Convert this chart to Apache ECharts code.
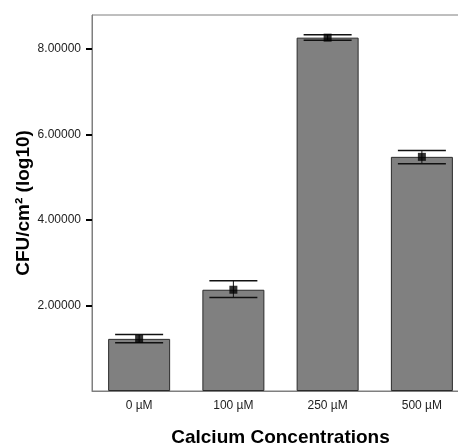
<!DOCTYPE html>
<html><head><meta charset="utf-8">
<script src="https://cdn.jsdelivr.net/npm/echarts@6/dist/echarts.min.js"></script>
<style>html,body{margin:0;padding:0;background:#fff}#c{width:458px;height:448px}</style>
</head><body><div id="c"></div>
<script>
const categories = ['0 µM', '100 µM', '250 µM', '500 µM'];
const means = [1.22, 2.37, 8.27, 5.48];
const errLow = [1.13, 2.19, 8.21, 5.32];
const errHigh = [1.32, 2.58, 8.34, 5.63];
const yTicks = [2, 4, 6, 8];
const yMin = 0, yMax = 8.8;

const font = '"Liberation Sans", Arial, sans-serif';
const chart = echarts.init(document.getElementById('c'), null, {renderer: 'canvas'});
const errData = categories.map((c, i) => [i, errLow[i], errHigh[i]]);

chart.setOption({
  animation: false,
  backgroundColor: '#fff',
  grid: {left: 92, top: 15, right: -11, bottom: 57, show: true, borderColor: '#7f7f7f', borderWidth: 1, containLabel: false, outerBoundsMode: 'none'},
  xAxis: {
    type: 'category', data: categories,
    axisLine: {lineStyle: {color: '#7f7f7f', width: 1}},
    axisTick: {alignWithLabel: true, length: 6, lineStyle: {color: '#000', width: 2}},
    axisLabel: {fontFamily: font, fontSize: 12, color: '#222', margin: 9},
    name: 'Calcium Concentrations', nameLocation: 'middle', nameGap: 37, nameMoveOverlap: false,
    nameTextStyle: {fontFamily: font, fontSize: 19, fontWeight: 'bold', color: '#000'}
  },
  yAxis: {
    type: 'value', min: yMin, max: yMax, interval: 2,
    splitLine: {show: false},
    axisLine: {show: true, lineStyle: {color: '#7f7f7f', width: 1}},
    axisTick: {show: true, length: 6, customValues: yTicks, lineStyle: {color: '#000', width: 2}},
    axisLabel: {fontFamily: font, fontSize: 12, color: '#222', margin: 11, customValues: yTicks,
      formatter: v => v.toFixed(5)},
    name: 'CFU/cm² (log10)', nameLocation: 'middle', nameGap: 59, nameRotate: 90, nameMoveOverlap: false,
    nameTextStyle: {fontFamily: font, fontSize: 19, fontWeight: 'bold', color: '#000'}
  },
  series: [
    {type: 'bar', data: means, barWidth: 62,
     itemStyle: {color: '#808080', borderColor: '#2b2b2b', borderWidth: 1}},
    {type: 'custom', data: errData, z: 5,
     renderItem: function (params, api) {
       const x = api.value(0);
       const lo = api.coord([x, api.value(1)]);
       const hi = api.coord([x, api.value(2)]);
       const hw = 24;
       const st = {stroke: '#111', lineWidth: 1.5};
       return {type: 'group', children: [
         {type: 'line', shape: {x1: lo[0], y1: lo[1], x2: hi[0], y2: hi[1]}, style: {stroke: '#111', lineWidth: 1}},
         {type: 'line', shape: {x1: lo[0] - hw, y1: lo[1], x2: lo[0] + hw, y2: lo[1]}, style: st},
         {type: 'line', shape: {x1: hi[0] - hw, y1: hi[1], x2: hi[0] + hw, y2: hi[1]}, style: st}
       ]};
     }},
    {type: 'scatter', data: means, symbol: 'rect', symbolSize: 8, z: 6,
     itemStyle: {color: '#000'}}
  ]
});
</script></body></html>
